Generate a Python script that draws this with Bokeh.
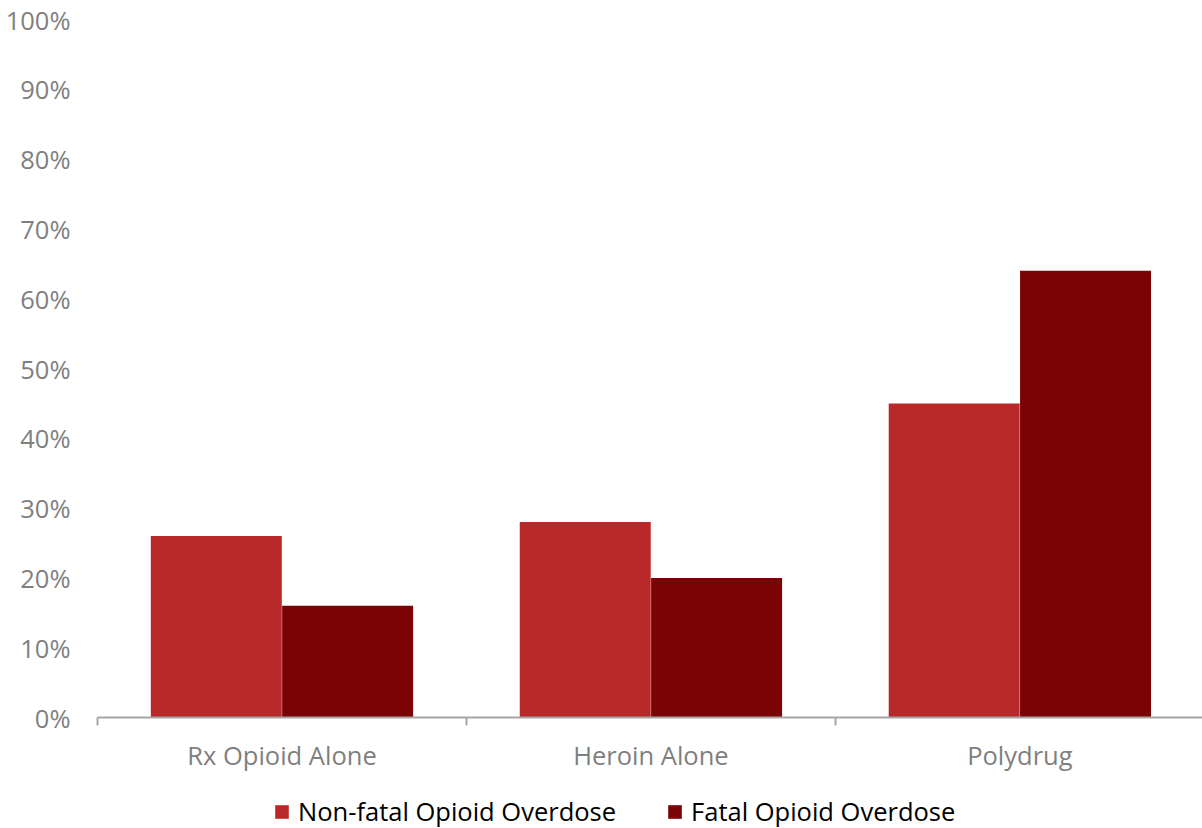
from bokeh.plotting import figure
from bokeh.layouts import column
from bokeh.models import (ColumnDataSource, Range1d, FixedTicker, Legend, LegendItem,
                          NumeralTickFormatter)
from bokeh.transform import dodge
from bokeh.embed import file_html
from bokeh.resources import INLINE

# Share of overdoses by drug involvement
categories = ["Rx Opioid Alone", "Heroin Alone", "Polydrug"]
series_names = ["Non-fatal Opioid Overdose", "Fatal Opioid Overdose"]
non_fatal = [0.26, 0.28, 0.45]
fatal = [0.16, 0.20, 0.64]
y_ticks = [0.0, 0.1, 0.2, 0.3, 0.4, 0.5, 0.6, 0.7, 0.8, 0.9, 1.0]

NON_FATAL_COLOR = "#BA2929"
FATAL_COLOR = "#7B0205"
GREY_TEXT = "#7F7F7F"
AXIS_GREY = "#A6A6A6"
FONT = "Open Sans"
FONT_SIZE = "25.5px"

pos = [i + 0.5 for i in range(len(categories))]
source = ColumnDataSource(dict(x=pos, non_fatal=non_fatal, fatal=fatal))

p = figure(width=1202, height=783, output_backend="svg", toolbar_location=None,
           x_range=Range1d(0, 2.995), y_range=Range1d(0, 1.0),
           min_border_left=97, min_border_right=0, min_border_top=19,
           min_border_bottom=66)
p.outline_line_color = None
p.grid.grid_line_color = None
p.background_fill_color = "white"
p.border_fill_color = "white"

bw = 0.355
p.vbar(x=dodge("x", -0.178, range=p.x_range), top="non_fatal", width=bw,
       source=source, fill_color=NON_FATAL_COLOR, line_color=None)
p.vbar(x=dodge("x", 0.178, range=p.x_range), top="fatal", width=bw,
       source=source, fill_color=FATAL_COLOR, line_color=None)

# x axis: labels centered on categories, boundary ticks as minor ticks
xa = p.xaxis[0]
xa.ticker = FixedTicker(ticks=pos, minor_ticks=[0, 1, 2, 3])
xa.major_label_overrides = {p_: c for p_, c in zip(pos, categories)}
xa.major_tick_line_color = None
xa.major_tick_out = 0
xa.major_tick_in = 0
xa.minor_tick_line_color = AXIS_GREY
xa.minor_tick_line_width = 2
xa.minor_tick_out = 8
xa.minor_tick_in = 0
xa.axis_line_color = AXIS_GREY
xa.axis_line_width = 2
xa.major_label_standoff = 12
xa.major_label_text_font = FONT
xa.major_label_text_font_size = FONT_SIZE
xa.major_label_text_color = GREY_TEXT

ya = p.yaxis[0]
ya.ticker = FixedTicker(ticks=y_ticks)
ya.formatter = NumeralTickFormatter(format="0%")
ya.axis_line_color = None
ya.major_tick_line_color = None
ya.major_tick_out = 0
ya.major_tick_in = 0
ya.minor_tick_line_color = None
ya.major_label_standoff = 27
ya.major_label_text_font = FONT
ya.major_label_text_font_size = FONT_SIZE
ya.major_label_text_color = GREY_TEXT

# legend strip under the chart
leg = figure(width=1202, height=45, output_backend="svg", toolbar_location=None,
             x_axis_type=None, y_axis_type=None, x_range=Range1d(0, 3),
             y_range=Range1d(0, 1), min_border=0)
leg.outline_line_color = None
leg.grid.grid_line_color = None
k1 = leg.vbar(x="x", top="non_fatal", width=bw, source=source,
              fill_color=NON_FATAL_COLOR, line_color=None, visible=False)
k2 = leg.vbar(x="x", top="fatal", width=bw, source=source,
              fill_color=FATAL_COLOR, line_color=None, visible=False)
legend = Legend(items=[LegendItem(label=series_names[0], renderers=[k1]),
                       LegendItem(label=series_names[1], renderers=[k2])],
                orientation="horizontal", location=(176, 0),
                label_text_font=FONT, label_text_font_size=FONT_SIZE,
                label_text_color="#000000", glyph_width=17, glyph_height=17,
                spacing=50, padding=0, margin=0, border_line_color=None,
                background_fill_alpha=0, label_standoff=8)
leg.add_layout(legend, "center")

open("out.html", "w").write(file_html(column(p, leg), INLINE))
